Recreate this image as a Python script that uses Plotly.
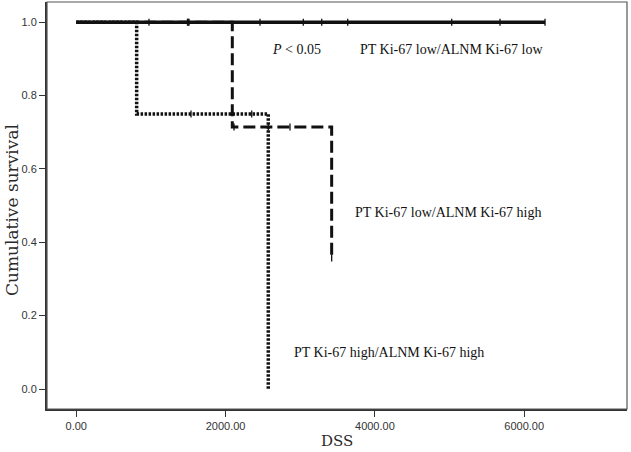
import plotly.graph_objects as go

# Step curves (time, survival)
low_low_t = [0, 6279]
low_low_s = [1.0, 1.0]
low_low_cens_t = [974, 1490, 1500, 1510, 2461, 3041, 3288, 3636, 5029, 5676, 6279]
low_low_cens_s = [1.0] * len(low_low_cens_t)

high_high_t = [0, 809, 2572]
high_high_s = [1.0, 0.75, 0.0]
high_high_cens_t = [1537, 2350]
high_high_cens_s = [0.75, 0.75]

low_high_t = [0, 2090, 3421]
low_high_s = [1.0, 0.714, 0.357]
low_high_cens_t = [2113, 2572, 2863, 3421]
low_high_cens_s = [0.714, 0.714, 0.714, 0.357]

x_ticks = [0, 2000, 4000, 6000]
y_ticks = [0.0, 0.2, 0.4, 0.6, 0.8, 1.0]

L, R, T, B = 47, 627, 2, 409
W, H = 631, 452
xr = [-392, 7377]
yr = [-0.0545, 1.055]

fig = go.Figure()

def add_group(t, s, ct, cs, dash, width):
    fig.add_trace(go.Scatter(x=t, y=s, mode="lines", line_shape="hv",
                             line=dict(color="#111111", width=width, dash=dash),
                             showlegend=False, hoverinfo="skip"))
    fig.add_trace(go.Scatter(x=ct, y=cs, mode="markers",
                             marker=dict(symbol="line-ns", size=5,
                                         line=dict(color="#111111", width=1.3)),
                             showlegend=False, hoverinfo="skip"))

add_group(high_high_t, high_high_s, high_high_cens_t, high_high_cens_s, "2.5px,1.5px", 3.5)
add_group(low_high_t, low_high_s, low_high_cens_t, low_high_cens_s, "12px,5px", 3)
add_group(low_low_t, low_low_s, low_low_cens_t, low_low_cens_s, "solid", 3.5)

def px2data(px, py):
    return (xr[0] + (px - L) / (R - L) * (xr[1] - xr[0]),
            yr[1] - (py - T) / (B - T) * (yr[1] - yr[0]))

ann_font = dict(family="Liberation Serif", size=14, color="#111111")
for txt, px, py in [("<i>P</i> < 0.05", 270, 49),
                    ("PT Ki-67 low/ALNM Ki-67 low", 358, 49),
                    ("PT Ki-67 low/ALNM Ki-67 high", 353, 212),
                    ("PT Ki-67 high/ALNM Ki-67 high", 292, 352)]:
    x, y = px2data(px, py)
    fig.add_annotation(text=txt, x=x, y=y, xref="x", yref="y", showarrow=False,
                       font=ann_font, xanchor="left", yanchor="middle")

title_family = "DejaVu Serif, Noto Serif, serif"
fig.add_annotation(text="Cumulative survival", xref="paper", yref="paper",
                   x=(12 - L) / (R - L), y=(B - 210) / (B - T), textangle=-90,
                   showarrow=False, font=dict(family=title_family, size=17, color="#2a2a2a"),
                   xanchor="center", yanchor="middle")
fig.add_annotation(text="DSS", xref="paper", yref="paper",
                   x=(337 - L) / (R - L), y=(B - 441) / (B - T),
                   showarrow=False, font=dict(family=title_family, size=15, color="#2a2a2a"),
                   xanchor="center", yanchor="middle")

tick_font = dict(family="Liberation Sans", size=11, color="#333333")
fig.update_layout(
    width=W, height=H,
    margin=dict(l=L, r=W - R, t=T, b=H - B, autoexpand=False),
    paper_bgcolor="white", plot_bgcolor="white",
    shapes=[dict(type="rect", xref="paper", yref="paper", x0=0, x1=1, y0=0, y1=1,
                 line=dict(color="#555555", width=1.2))],
    xaxis=dict(range=xr, tickvals=x_ticks, tickformat=".2f", showgrid=False,
               zeroline=False, showline=True, linecolor="#333333", linewidth=2,
               ticks="outside", ticklen=6, tickcolor="#333333", tickfont=tick_font,
               automargin=False),
    yaxis=dict(range=yr, tickvals=y_ticks, tickformat=".1f", showgrid=False,
               zeroline=False, showline=True, linecolor="#333333", linewidth=2,
               ticks="outside", ticklen=6, tickcolor="#333333", tickfont=tick_font,
               automargin=False),
)

fig.write_html("out.html", config={"displayModeBar": False},
               post_script="document.body.style.margin='0';document.body.style.padding='0';")
